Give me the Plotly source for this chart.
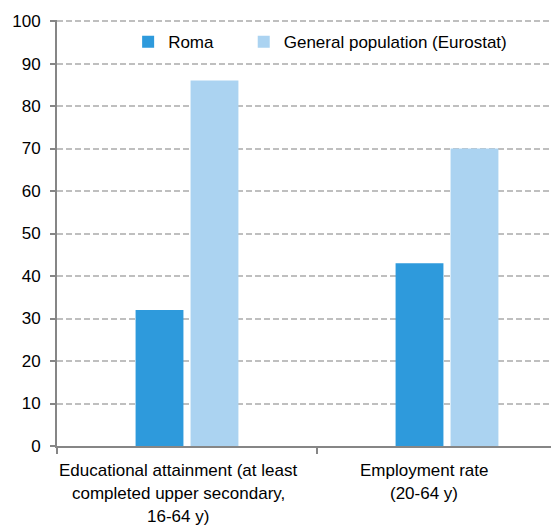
import plotly.graph_objects as go

categories = ["Educational attainment", "Employment rate"]
tick_labels = ["Educational attainment (at least<br>completed upper secondary,<br>16-64 y)",
               "Employment rate<br>(20-64 y)"]
label_pos = [-0.033, 0.913]
roma = [32, 43]
general = [86, 70]
y_ticks = [0, 10, 20, 30, 40, 50, 60, 70, 80, 90, 100]

FONT = "Liberation Sans, Arial, sans-serif"
FS = 17
LINE_H = 23
cat_idx = list(range(len(categories)))

fig = go.Figure()
fig.add_trace(go.Bar(x=cat_idx, y=roma, name="Roma", marker_color="#2E9ADC",
                     marker_line_width=0, legend="legend"))
fig.add_trace(go.Bar(x=cat_idx, y=general, name="General population (Eurostat)",
                     marker_color="#ABD3F1", marker_line_width=0, legend="legend2"))

for xv, txt in zip(label_pos, tick_labels):
    for i, line in enumerate(txt.split("<br>")):
        fig.add_annotation(x=xv, xref="x", y=0, yref="paper", yanchor="top",
                           xanchor="center", yshift=-13 - i * LINE_H, text=line,
                           showarrow=False, align="center",
                           font=dict(family=FONT, size=FS, color="#000000"))

leg_common = dict(orientation="h", yanchor="middle", xanchor="left",
                  bgcolor="rgba(0,0,0,0)", font=dict(family=FONT, size=FS, color="#000000"))

fig.update_layout(
    width=551, height=528,
    margin=dict(l=57, r=0, t=20, b=82),
    paper_bgcolor="white", plot_bgcolor="white",
    font=dict(family=FONT, size=FS, color="#000000"),
    barmode="group", bargap=0.577, bargroupgap=0.13,
    showlegend=True,
    legend=dict(x=0.144, y=0.948, **leg_common),
    legend2=dict(x=0.378, y=0.948, **leg_common),
    xaxis=dict(type="linear", range=[-0.5, 1.4], tickvals=[-0.5, 0.5, 1.5],
               showticklabels=False, ticks="outside", ticklen=6, tickcolor="#868686",
               tickwidth=2, showline=True, linecolor="#868686", linewidth=2,
               showgrid=False, zeroline=False),
    yaxis=dict(range=[0, 100.25], tickvals=y_ticks, ticks="outside", ticklen=5,
               tickcolor="#868686", tickwidth=2, showline=True, linecolor="#868686",
               linewidth=2, showgrid=True, gridcolor="#BFBFBF", gridwidth=1.5,
               griddash="6px,3px", zeroline=False, ticklabelstandoff=6,
               tickfont=dict(family=FONT, size=FS, color="#000000")),
)
fig.write_html("out.html")
